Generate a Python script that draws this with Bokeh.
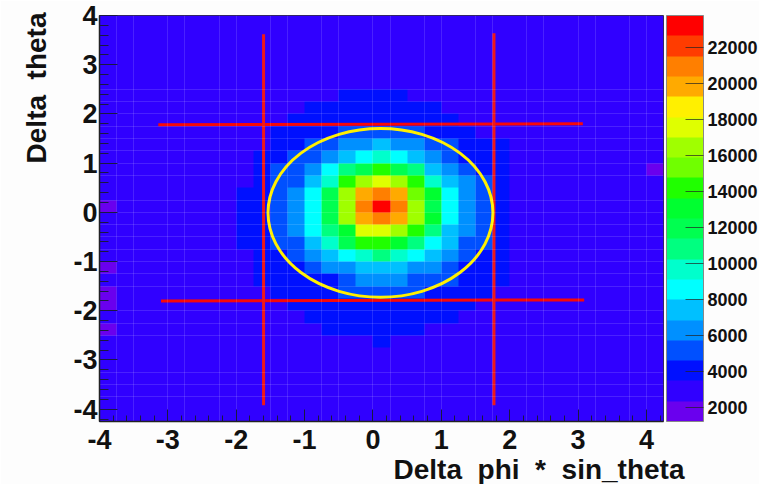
import numpy as np
from bokeh.embed import file_html
from bokeh.resources import INLINE
from bokeh.plotting import figure
from bokeh.models import ColorBar, FixedTicker, LinearColorMapper, Title

# 2D histogram: bin edges
x_start, y_start, bin_size, n_bins = -4.0, -4.25, 0.25, 33
background = 2900
# central block: rows top to bottom (y bin 2.25..2.5 down to -2.75..-2.5), columns x bin -2.25 .. 2.25
central = [
 [2900,2900,2900,2900,2900,2900,2900,4000,4000,4000,4000,2900,2900,2900,2900,2900,2900,2900],
 [2900,2900,2900,2900,2900,4000,4000,4000,4000,4000,4000,4000,4000,2900,2900,2900,2900,2900],
 [2900,2900,2900,2900,4000,4000,4000,4000,4000,4000,4000,4000,4000,4000,2900,2900,2900,2900],
 [2900,2900,2900,4000,4000,4000,4000,5100,5100,5100,5100,5100,4000,4000,4000,2900,2900,2900],
 [2900,2900,2900,4000,4000,5100,5100,6300,6300,7400,6300,6300,5100,5100,4000,4000,4000,2900],
 [2900,2900,4000,4000,5100,5100,6300,7400,8500,9700,8500,7400,6300,5100,4000,4000,4000,2900],
 [2900,2900,4000,5100,5100,6300,8500,10800,11900,14200,11900,10800,7400,6300,5100,4000,4000,2900],
 [2900,2900,4000,5100,5100,7400,9700,14200,16400,17600,16400,14200,9700,7400,6300,5100,4000,2900],
 [2900,4000,4000,5100,6300,8500,11900,16400,19800,20900,19800,15300,13000,8500,6300,5100,4000,2900],
 [2900,4000,4000,5100,6300,8500,11900,16400,20900,23200,20900,16400,11900,8500,6300,5100,4000,2900],
 [2900,4000,4000,5100,6300,8500,11900,16400,19800,20900,19800,16400,13000,8500,6300,5100,4000,2900],
 [2900,4000,4000,5100,6300,8500,10800,13000,17600,17600,16400,14200,10800,7400,6300,5100,4000,2900],
 [2900,4000,4000,5100,5100,7400,9700,11900,14200,14200,13000,10800,8500,7400,5100,5100,4000,2900],
 [2900,2900,4000,4000,5100,6300,7400,8500,9700,10800,9700,8500,7400,6300,5100,4000,4000,2900],
 [2900,2900,4000,4000,4000,5100,6300,6300,7400,7400,7400,6300,6300,5100,4000,4000,4000,2900],
 [2900,2900,4000,4000,4000,4000,4000,5100,6300,6300,6300,5100,5100,5100,4000,4000,4000,2900],
 [2900,2900,2900,4000,4000,4000,4000,5100,5100,5100,5100,5100,4000,4000,4000,4000,2900,2900],
 [2900,2900,2900,2900,4000,4000,4000,4000,4000,4000,4000,4000,4000,4000,4000,2900,2900,2900],
 [2900,2900,2900,2900,2900,4000,4000,4000,4000,4000,4000,4000,4000,4000,2900,2900,2900,2900],
 [2900,2900,2900,2900,2900,2900,4000,4000,4000,4000,4000,4000,2900,2900,2900,2900,2900,2900],
 [2900,2900,2900,2900,2900,2900,2900,2900,2900,4000,2900,2900,2900,2900,2900,2900,2900,2900],
]
central_first_col, central_first_row = 7, 6
# isolated low bins at the edges: (column, row, count)
edge_bins = [(0,17,1800),(0,12,1800),(0,10,1800),(0,9,1800),(0,7,1800),(32,20,1800)]

palette = ["#6a00ee","#3000ff","#0010ff","#0050ff","#0090ff","#00c0ff","#00ffff","#00ffcc","#00ff80","#00ff50",
           "#00ff30","#20ff00","#70ff00","#a0ff00","#dfff00","#fff000","#ffaa00","#ff7f00","#ff3c00","#ff0000"]
z_low, z_high = 1200, 23760
z_ticks = [2000,4000,6000,8000,10000,12000,14000,16000,18000,20000,22000]
x_ticks = [-4,-3,-2,-1,0,1,2,3,4]
y_ticks = [-4,-3,-2,-1,0,1,2,3,4]
x_title = "Delta\u00a0\u00a0phi\u00a0\u00a0*\u00a0\u00a0sin_theta"
y_title = "Delta\u00a0\u00a0theta"

# red cuts
h_x0, h_x1, h_y0, h_y1 = [-3.14,-3.10], [3.07,3.09], [1.78,-1.80], [1.80,-1.78]
v_x0, v_x1, v_y0, v_y1 = [-1.60,1.77], [-1.60,1.77], [3.62,3.64], [-3.92,-3.92]
# ellipse
e_x, e_y, e_w, e_h = 0.11, -0.01, 3.29, 3.43

# bin boundaries that show as faint lines
grid_x = [-3.75,-3.5,-3,-2.75,-2.25,-2,-1.5,-1.25,-0.75,-0.5,0,0.25,0.75,1,1.5,1.75,2.25,2.5,3,3.25,3.75,4]
grid_y = [2.5,2.25,2,1.75,1.5,1.25,1,0.75,0.25,0,-0.25,-0.5,-0.75,-1,-1.25,-1.5,-2,-2.25,-2.5,-3.25,-3.5,-3.75]

counts = np.full((n_bins, n_bins), float(background))
block = np.array(central, dtype=float)[::-1]
counts[central_first_row:central_first_row+block.shape[0], central_first_col:central_first_col+block.shape[1]] = block
for c, r, v in edge_bins:
    counts[r, c] = v

mapper = LinearColorMapper(palette=palette, low=z_low, high=z_high)
bg = "#fdfdfd"
x_range = (x_start, x_start + n_bins*bin_size)
y_range = (y_start, y_start + n_bins*bin_size)
p = figure(frame_width=564, frame_height=406, x_range=x_range, y_range=y_range,
           output_backend="svg", toolbar_location=None,
           min_border_left=99, min_border_top=15, min_border_bottom=60, min_border_right=0,
           border_fill_color=bg, outline_line_color="#333333")
p.image(image=[counts], x=x_start, y=y_start, dw=n_bins*bin_size, dh=n_bins*bin_size, color_mapper=mapper)
p.segment(h_x0, h_y0, h_x1, h_y1, line_color="#f80808", line_width=3)
p.segment(v_x0, v_y0, v_x1, v_y1, line_color="#f01818", line_width=3)
p.ellipse(x=[e_x], y=[e_y], width=[e_w], height=[e_h], fill_color=None, line_color="#fff000", line_width=3)

p.xgrid.ticker = FixedTicker(ticks=grid_x)
p.ygrid.ticker = FixedTicker(ticks=grid_y)
for g in (p.xgrid, p.ygrid):
    g.level = "glyph"
    g.grid_line_color = "#ffffff"
    g.grid_line_alpha = 0.13
    g.grid_line_width = 1

font = "Liberation Sans"
x_minor = [t/5 for t in range(-20, 22)]
y_minor = [t/5 for t in range(-21, 21)]
p.xaxis.ticker = FixedTicker(ticks=x_ticks, minor_ticks=x_minor)
p.yaxis.ticker = FixedTicker(ticks=y_ticks, minor_ticks=y_minor)
p.xaxis.major_label_overrides = {t: str(t) for t in x_ticks}
p.yaxis.major_label_overrides = {t: str(t) for t in y_ticks}
for ax, maj, mnr, so in ((p.xaxis[0], 12, 6, 8), (p.yaxis[0], 18, 9, 2)):
    ax.major_tick_in = maj; ax.major_tick_out = 0
    ax.minor_tick_in = mnr; ax.minor_tick_out = 0
    ax.major_tick_line_color = "#1a1a40"; ax.minor_tick_line_color = "#1a1a40"
    ax.axis_line_color = "#222222"; ax.axis_line_width = 1.5
    ax.major_label_text_font = font; ax.major_label_text_font_style = "bold"
    ax.major_label_text_font_size = "27px"; ax.major_label_text_color = "#111111"
    ax.major_label_standoff = so

cb = ColorBar(color_mapper=mapper, width=37, height=406, padding=0, margin=0, label_standoff=4,
              location=(3, 0),
              ticker=FixedTicker(ticks=z_ticks), major_tick_in=18, major_tick_out=0, minor_tick_in=0, minor_tick_out=0,
              major_tick_line_color="#222222", major_tick_line_alpha=0.7, major_label_text_font=font, major_label_text_font_style="bold",
              major_label_text_font_size="18px", major_label_text_color="#111111",
              major_label_overrides={t: str(t) for t in z_ticks},
              bar_line_color="#888888", background_fill_color=bg, border_line_color=None)
p.add_layout(cb, "right")

title_style = dict(text_font=font, text_font_style="bold", text_font_size="28px", text_color="#111111", border_line_color=None)
p.add_layout(Title(text=x_title, align="right", offset=-21, standoff=0, **title_style), "below")
p.add_layout(Title(text=y_title, align="right", offset=-3, standoff=34, vertical_align="top", **title_style), "left")

open("out.html", "w").write(file_html(p, INLINE))
